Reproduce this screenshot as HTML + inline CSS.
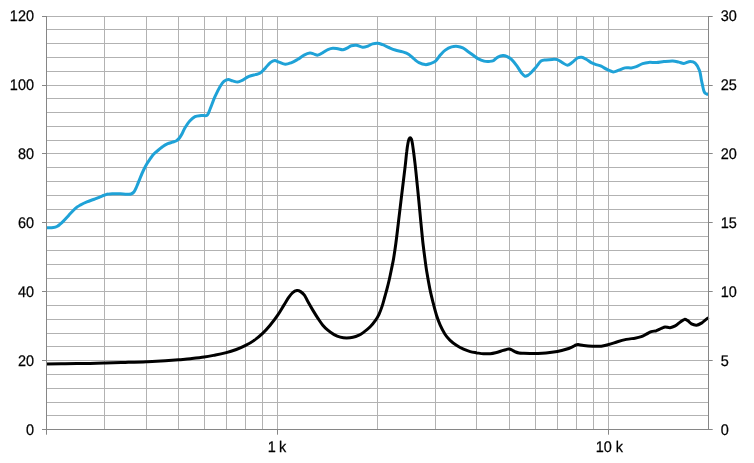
<!DOCTYPE html>
<html><head><meta charset="utf-8"><title>chart</title>
<style>html,body{margin:0;padding:0;background:#fff}svg{display:block}text{font-family:"Liberation Sans",Arial,sans-serif;font-size:15.40px;fill:#000;stroke:#000;stroke-width:0.25px;text-rendering:geometricPrecision}</style></head>
<body>
<svg width="754" height="463" viewBox="0 0 754 463">
<rect width="754" height="463" fill="#ffffff"/>
<path d="M46.0 16.5H709.0M46.0 29.5H709.0M46.0 43.5H709.0M46.0 57.5H709.0M46.0 71.5H709.0M46.0 85.5H709.0M46.0 98.5H709.0M46.0 112.5H709.0M46.0 126.5H709.0M46.0 140.5H709.0M46.0 153.5H709.0M46.0 167.5H709.0M46.0 181.5H709.0M46.0 195.5H709.0M46.0 209.5H709.0M46.0 222.5H709.0M46.0 236.5H709.0M46.0 250.5H709.0M46.0 264.5H709.0M46.0 278.5H709.0M46.0 291.5H709.0M46.0 305.5H709.0M46.0 319.5H709.0M46.0 333.5H709.0M46.0 346.5H709.0M46.0 360.5H709.0M46.0 374.5H709.0M46.0 388.5H709.0M46.0 402.5H709.0M46.0 415.5H709.0M46.0 429.5H709.0M104.5 16.0V430.0M146.5 16.0V430.0M178.5 16.0V430.0M204.5 16.0V430.0M226.5 16.0V430.0M245.5 16.0V430.0M262.5 16.0V430.0M277.5 16.0V430.0M377.5 16.0V430.0M435.5 16.0V430.0M476.5 16.0V430.0M509.5 16.0V430.0M535.5 16.0V430.0M557.5 16.0V430.0M576.5 16.0V430.0M593.5 16.0V430.0M608.5 16.0V430.0" stroke="#b2b2b2" stroke-width="1" fill="none"/>
<path d="M46.5 227.8C47.6 227.8 51.6 227.9 53.4 227.6C55.2 227.3 56.3 226.8 57.4 226.2C58.5 225.6 59.1 225.0 60.1 224.2C61.1 223.3 62.3 222.2 63.4 221.1C64.5 220.0 65.7 218.7 66.8 217.5C67.9 216.3 69.0 215.0 70.1 213.8C71.2 212.6 72.4 211.3 73.5 210.2C74.6 209.1 75.7 208.0 76.8 207.2C77.9 206.3 78.5 206.0 80.2 205.1C81.9 204.2 84.7 202.8 86.9 201.9C89.1 201.0 91.3 200.3 93.5 199.5C95.7 198.7 98.4 197.5 100.2 196.8C102.0 196.1 103.0 195.6 104.3 195.2C105.6 194.8 106.8 194.3 108.3 194.1C109.8 193.8 111.6 193.8 113.6 193.7C115.6 193.6 118.1 193.7 120.3 193.8C122.5 193.9 125.2 194.2 127.0 194.2C128.8 194.2 129.8 194.4 131.0 194.0C132.2 193.6 133.0 193.2 133.9 192.0C134.8 190.8 135.6 188.9 136.7 186.5C137.8 184.1 139.0 180.6 140.2 177.8C141.3 175.1 142.5 172.3 143.6 170.0C144.7 167.7 145.8 165.6 146.9 163.7C148.0 161.8 149.2 160.2 150.3 158.6C151.5 157.0 152.4 155.4 153.8 154.0C155.2 152.6 156.9 151.3 158.5 150.0C160.1 148.7 161.6 147.2 163.2 146.2C164.8 145.1 166.2 144.4 167.8 143.7C169.4 143.0 171.1 142.7 172.5 142.2C173.9 141.7 175.3 141.4 176.5 140.7C177.7 140.0 178.5 139.2 179.4 138.0C180.3 136.8 181.3 135.2 182.2 133.5C183.1 131.8 183.7 129.9 185.0 127.8C186.3 125.7 188.3 122.5 190.0 120.7C191.7 118.9 193.1 117.6 195.0 116.7C196.9 115.8 199.3 115.8 201.3 115.5C203.3 115.2 205.6 116.3 207.1 115.2C208.6 114.1 208.8 112.1 210.1 109.0C211.4 105.9 213.4 100.2 215.1 96.4C216.8 92.6 218.6 88.9 220.1 86.4C221.6 83.9 222.6 82.5 223.9 81.4C225.2 80.3 226.7 79.7 228.2 79.6C229.7 79.5 231.1 80.5 232.7 80.9C234.3 81.3 236.0 82.2 237.7 82.1C239.4 82.0 240.8 81.0 242.7 80.1C244.6 79.1 246.9 77.3 249.0 76.4C251.1 75.5 253.3 75.1 255.2 74.6C257.1 74.0 258.5 74.2 260.2 73.1C261.9 72.0 263.6 69.8 265.3 68.1C267.0 66.3 268.7 63.9 270.3 62.6C271.9 61.4 273.4 60.7 274.8 60.6C276.2 60.5 277.2 61.5 279.0 62.1C280.8 62.7 283.2 64.2 285.3 64.3C287.4 64.4 289.5 63.4 291.6 62.6C293.7 61.8 295.8 60.5 297.9 59.3C300.0 58.0 302.1 56.1 304.1 55.1C306.1 54.1 308.2 53.3 309.9 53.1C311.6 52.9 312.8 53.8 314.1 54.1C315.4 54.4 316.4 55.4 317.9 55.1C319.4 54.9 321.2 53.5 322.9 52.6C324.6 51.7 326.2 50.3 327.9 49.6C329.6 48.9 331.2 48.4 332.9 48.3C334.6 48.2 336.3 48.6 338.0 48.8C339.7 49.0 341.3 49.9 343.0 49.7C344.7 49.5 346.6 48.3 348.0 47.6C349.4 46.9 349.9 46.1 351.3 45.7C352.7 45.3 354.4 45.0 356.3 45.2C358.2 45.5 360.7 47.0 362.6 47.2C364.5 47.4 365.9 46.8 367.6 46.2C369.3 45.7 370.9 44.4 372.6 43.9C374.3 43.4 375.9 43.1 377.6 43.2C379.3 43.3 380.7 44.0 382.6 44.7C384.5 45.4 386.8 46.6 388.9 47.5C391.0 48.4 392.9 49.3 395.2 50.0C397.5 50.7 400.4 51.2 402.7 51.9C405.0 52.6 407.0 53.2 408.9 54.4C410.8 55.6 412.3 57.5 414.0 58.9C415.7 60.3 417.1 61.7 419.0 62.6C420.9 63.5 423.3 64.4 425.2 64.6C427.1 64.8 428.5 64.2 430.2 63.6C431.9 63.0 433.8 62.5 435.5 61.1C437.2 59.7 438.7 56.9 440.3 55.1C441.9 53.3 443.4 51.5 445.3 50.1C447.2 48.7 449.5 47.5 451.6 46.9C453.7 46.3 455.9 46.2 457.8 46.4C459.7 46.6 461.1 47.1 462.8 47.9C464.5 48.7 466.2 50.2 467.9 51.4C469.6 52.6 471.2 53.9 472.9 55.1C474.6 56.3 476.0 57.6 477.9 58.6C479.8 59.6 482.2 60.6 484.1 61.1C486.0 61.6 487.6 61.5 489.2 61.4C490.8 61.3 491.9 61.3 493.4 60.6C494.8 59.9 496.3 57.9 497.9 57.1C499.5 56.3 501.4 55.7 502.9 55.6C504.4 55.5 505.2 55.7 506.7 56.4C508.2 57.1 510.0 58.0 511.7 59.6C513.4 61.2 515.0 63.4 516.7 65.7C518.4 68.0 520.3 71.5 521.7 73.2C523.1 75.0 524.0 75.9 525.0 76.2C526.0 76.5 527.0 75.8 528.0 75.2C529.0 74.6 529.7 74.0 531.0 72.7C532.3 71.4 534.3 69.1 536.0 67.2C537.7 65.3 539.3 62.3 541.0 61.1C542.7 59.9 544.1 60.2 546.0 59.9C547.9 59.6 550.4 59.4 552.3 59.4C554.2 59.4 555.6 59.1 557.3 59.6C559.0 60.1 560.6 61.7 562.3 62.6C564.0 63.5 565.7 65.2 567.4 65.2C569.1 65.2 570.7 63.5 572.4 62.3C574.1 61.1 575.8 58.8 577.4 58.0C579.0 57.2 580.2 57.1 581.7 57.3C583.2 57.5 584.6 58.4 586.2 59.3C587.8 60.2 589.5 61.7 591.2 62.6C592.9 63.5 594.5 64.0 596.2 64.6C597.9 65.2 599.3 65.3 601.2 66.2C603.1 67.1 605.5 68.8 607.5 69.7C609.5 70.7 611.3 71.8 613.2 71.9C615.1 72.0 616.8 70.9 618.8 70.2C620.8 69.5 622.9 68.3 625.0 67.9C627.1 67.5 629.4 68.1 631.3 67.9C633.2 67.7 634.4 67.4 636.3 66.7C638.2 66.0 640.5 64.3 642.6 63.6C644.7 62.9 646.5 62.6 648.8 62.4C651.1 62.2 653.9 62.7 656.4 62.6C658.9 62.5 661.2 61.9 663.9 61.6C666.6 61.3 670.2 60.8 672.7 60.9C675.2 61.0 677.0 61.7 678.9 62.1C680.8 62.5 682.0 63.5 683.9 63.4C685.8 63.3 688.3 61.4 690.2 61.4C692.1 61.4 693.7 61.6 695.2 63.1C696.8 64.6 698.5 67.8 699.5 70.5C700.5 73.2 700.8 76.8 701.3 79.5C701.8 82.2 702.4 84.6 702.8 86.5C703.2 88.4 703.5 89.9 703.9 91.0C704.3 92.1 704.7 92.8 705.2 93.3C705.7 93.8 706.2 93.8 706.8 94.0C707.3 94.2 708.2 94.2 708.5 94.3" stroke="#1fa2d7" stroke-width="3" fill="none" stroke-linejoin="round" stroke-linecap="butt"/>
<path d="M46.5 364.0C49.6 364.0 57.8 363.9 65.0 363.8C72.2 363.7 83.3 363.5 90.0 363.4C96.7 363.3 99.3 363.2 105.2 363.0C111.1 362.8 118.3 362.6 125.2 362.4C132.1 362.2 139.8 362.0 146.5 361.7C153.2 361.4 160.0 361.1 165.3 360.8C170.7 360.5 174.4 360.2 178.6 359.8C182.8 359.4 186.1 359.2 190.4 358.7C194.7 358.2 200.0 357.6 204.2 357.0C208.4 356.4 211.8 355.7 215.5 355.0C219.2 354.3 222.8 353.5 226.3 352.6C229.8 351.7 233.2 350.6 236.3 349.5C239.4 348.4 242.2 347.2 245.1 345.7C248.0 344.2 250.9 342.7 253.8 340.6C256.7 338.6 259.9 336.0 262.6 333.4C265.3 330.8 267.6 328.2 270.1 325.2C272.6 322.1 275.4 318.5 277.7 315.1C280.0 311.8 282.0 308.1 283.9 305.1C285.8 302.1 287.4 299.2 288.9 297.1C290.4 295.0 291.4 293.7 292.7 292.6C294.0 291.5 295.6 290.8 296.9 290.6C298.2 290.4 299.4 290.9 300.6 291.6C301.9 292.4 303.2 293.5 304.4 295.1C305.6 296.7 306.3 298.8 307.7 301.3C309.1 303.8 311.1 307.3 312.8 310.1C314.5 312.9 316.1 315.6 317.8 318.1C319.5 320.6 321.1 323.2 322.8 325.2C324.5 327.2 325.9 328.6 327.8 330.2C329.7 331.8 332.0 333.5 334.1 334.6C336.2 335.8 338.2 336.6 340.3 337.1C342.4 337.7 344.5 337.9 346.6 337.9C348.7 337.9 350.8 337.8 352.9 337.3C355.0 336.9 357.3 336.0 359.1 335.2C360.9 334.4 361.6 333.8 363.5 332.4C365.4 331.0 368.2 328.9 370.2 326.8C372.2 324.8 374.1 322.2 375.6 320.1C377.1 318.0 378.0 316.4 379.1 314.0C380.2 311.6 381.5 308.1 382.4 305.4C383.3 302.6 383.9 300.1 384.6 297.5C385.3 294.9 385.9 293.0 386.7 290.0C387.5 287.0 388.5 283.0 389.3 279.5C390.1 276.0 390.8 272.5 391.5 269.0C392.2 265.5 392.9 262.8 393.6 258.5C394.3 254.2 395.1 249.0 395.9 243.0C396.7 237.0 397.6 229.4 398.4 222.5C399.2 215.6 400.1 208.3 400.9 201.5C401.7 194.7 402.6 187.9 403.3 181.8C404.0 175.7 404.7 170.1 405.3 165.1C405.9 160.1 406.2 155.7 406.7 152.0C407.1 148.3 407.6 145.1 408.0 143.0C408.4 140.9 408.6 140.1 409.0 139.2C409.4 138.3 409.8 137.7 410.2 137.7C410.6 137.7 411.0 138.3 411.4 139.2C411.8 140.1 411.9 140.9 412.3 143.0C412.7 145.1 413.1 148.3 413.6 152.0C414.1 155.7 414.6 160.0 415.2 165.1C415.8 170.2 416.4 176.6 417.0 182.5C417.6 188.4 418.2 194.0 418.8 200.5C419.4 207.0 420.2 215.0 420.8 221.6C421.4 228.2 422.0 234.2 422.6 240.0C423.2 245.8 423.9 250.8 424.6 256.2C425.3 261.6 426.0 267.2 426.9 272.6C427.8 278.0 428.8 283.6 429.8 288.6C430.8 293.6 432.0 298.3 433.1 302.7C434.2 307.1 435.3 311.4 436.5 315.2C437.7 318.9 438.8 322.0 440.2 325.2C441.6 328.4 443.4 331.7 445.0 334.2C446.6 336.7 448.1 338.4 450.1 340.3C452.1 342.2 454.6 344.1 456.8 345.6C459.0 347.1 461.3 348.2 463.5 349.2C465.7 350.2 468.0 351.0 470.2 351.6C472.4 352.2 474.7 352.5 476.9 352.9C479.1 353.2 481.3 353.6 483.5 353.7C485.7 353.8 488.2 353.8 490.2 353.7C492.2 353.6 493.6 353.3 495.6 352.8C497.6 352.3 500.5 351.2 502.3 350.6C504.1 350.0 505.4 349.6 506.5 349.4C507.6 349.1 508.1 349.0 509.0 349.1C509.9 349.2 510.6 349.4 511.7 349.9C512.8 350.4 514.5 351.5 515.7 352.0C516.9 352.5 517.7 352.8 519.0 353.0C520.3 353.2 521.9 353.2 523.7 353.3C525.5 353.4 527.6 353.4 530.0 353.4C532.4 353.4 535.3 353.6 538.0 353.5C540.7 353.4 542.8 353.3 546.0 353.0C549.2 352.7 553.9 352.1 557.3 351.5C560.6 350.9 563.6 350.1 566.1 349.3C568.6 348.5 570.8 347.5 572.4 346.8C574.0 346.1 575.0 345.4 576.0 345.0C577.0 344.6 576.9 344.5 578.2 344.6C579.5 344.7 581.3 345.2 583.7 345.5C586.1 345.8 589.5 346.1 592.4 346.2C595.3 346.3 598.5 346.5 601.2 346.2C603.9 345.9 606.0 345.2 608.7 344.5C611.4 343.8 614.6 342.6 617.5 341.7C620.4 340.8 623.4 340.0 626.3 339.4C629.2 338.8 632.5 338.6 635.0 338.2C637.5 337.8 639.4 337.4 641.3 336.7C643.2 336.0 644.6 335.0 646.3 334.2C648.0 333.4 649.6 332.3 651.3 331.7C653.0 331.1 654.7 331.2 656.4 330.7C658.1 330.1 659.9 329.0 661.4 328.4C662.9 327.8 663.6 327.0 665.1 326.9C666.6 326.8 668.4 327.9 670.1 327.7C671.8 327.5 673.5 326.8 675.2 325.9C676.9 325.0 678.7 323.2 680.2 322.1C681.7 321.0 683.1 319.6 684.4 319.4C685.6 319.1 686.5 319.9 687.7 320.6C688.9 321.4 690.0 323.1 691.5 323.9C693.0 324.7 694.8 325.3 696.5 325.2C698.2 325.1 700.0 324.0 701.5 323.1C703.0 322.2 704.0 321.0 705.2 320.1C706.4 319.2 708.0 318.0 708.5 317.6" stroke="#000" stroke-width="3" fill="none" stroke-linejoin="round" stroke-linecap="butt"/>
<path d="M46.5 16.0V434.7M708.5 16.0V430.0M46.0 429.5H709.0M42.0 429.5H46.0M42.0 360.5H46.0M42.0 291.5H46.0M42.0 222.5H46.0M42.0 153.5H46.0M42.0 85.5H46.0M42.0 16.5H46.0M709.0 429.5H712.7M709.0 360.5H712.7M709.0 291.5H712.7M709.0 222.5H712.7M709.0 153.5H712.7M709.0 85.5H712.7M709.0 16.5H712.7M277.5 430.0V434.7M608.5 430.0V434.7" stroke="#868686" stroke-width="1" fill="none"/>
<text transform="translate(34,435.1) scale(0.94,1)" text-anchor="end">0</text>
<text transform="translate(34,366.1) scale(0.94,1)" text-anchor="end">20</text>
<text transform="translate(34,297.1) scale(0.94,1)" text-anchor="end">40</text>
<text transform="translate(34,228.1) scale(0.94,1)" text-anchor="end">60</text>
<text transform="translate(34,159.1) scale(0.94,1)" text-anchor="end">80</text>
<text transform="translate(34,90.1) scale(0.94,1)" text-anchor="end">100</text>
<text transform="translate(34,21.1) scale(0.94,1)" text-anchor="end">120</text>
<text transform="translate(720.7,435.1) scale(0.94,1)">0</text>
<text transform="translate(720.7,366.1) scale(0.94,1)">5</text>
<text transform="translate(720.7,297.1) scale(0.94,1)">10</text>
<text transform="translate(720.7,228.1) scale(0.94,1)">15</text>
<text transform="translate(720.7,159.1) scale(0.94,1)">20</text>
<text transform="translate(720.7,90.1) scale(0.94,1)">25</text>
<text transform="translate(720.7,21.1) scale(0.94,1)">30</text>
<text transform="translate(276.9,452) scale(0.94,1)" text-anchor="middle" style="word-spacing:-0.9px">1 k</text>
<text transform="translate(609.4,452) scale(0.94,1)" text-anchor="middle">10 k</text>
</svg>
</body></html>
